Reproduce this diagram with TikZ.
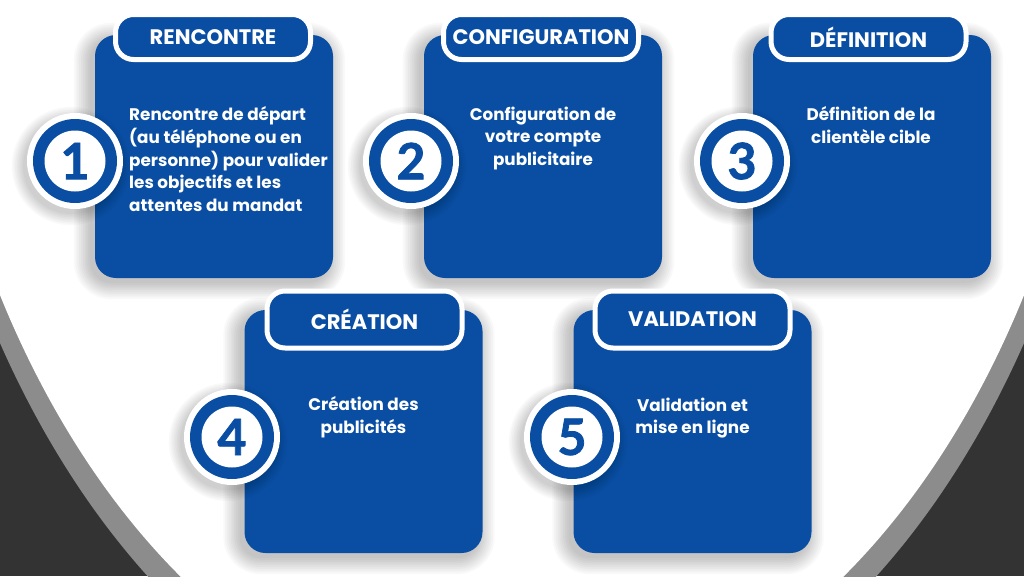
\documentclass[tikz,border=0pt]{standalone}
\usepackage{fontspec}
\setmainfont{Poppins}
\newfontfamily\digitfont{Lato}[BoldFeatures={FakeBold=1.6}]
\definecolor{mblue}{HTML}{0A4EA3}
\definecolor{darkbg}{HTML}{333333}
\definecolor{ringgray}{HTML}{8C8C8C}
\begin{document}
\begin{tikzpicture}[x=1pt,y=-1pt,
  stepcard/.style={fill=mblue, rounded corners=21pt, inner sep=0pt, minimum width=238pt, minimum height=243pt},
  steptab/.style={fill=mblue, draw=white, line width=5pt, rounded corners=18pt, inner sep=0pt, minimum width=195pt, text=white, font=\bfseries\fontsize{21}{24}\selectfont},
  bodytext/.style={text=white, inner sep=0pt, font=\bfseries\fontsize{16.8}{22.7}\selectfont},
  ringout/.style={circle, fill=white, inner sep=0pt, minimum size=96pt},
  ringmid/.style={circle, fill=mblue, inner sep=0pt, minimum size=84pt},
  ringin/.style={circle, fill=white, inner sep=0pt, minimum size=61pt},
  digit/.style={text=mblue, inner sep=0pt, font=\digitfont\bfseries\fontsize{50}{50}\selectfont},
  shadowlayer/.style={fill=black, opacity=0.022}
]
\useasboundingbox (0,0) rectangle (1024,576);
\clip (0,0) rectangle (1024,576);
% background
\fill[darkbg] (0,0) rectangle (1024,576);
\fill[ringgray] (512,-166) ellipse [x radius=614, y radius=922];
\fill[white] (512,-166) ellipse [x radius=598, y radius=892];

% card shadows
\foreach \cx/\cy in {214/156.5, 543/156.5, 872/156.5, 363.5/431.5, 692.5/431.5}{
  \foreach \i in {0,...,9}{
    \fill[shadowlayer, rounded corners={21+\i*1.8}]
      ({\cx-119-5-\i*1.8},{\cy-121.5+4-\i*1.8}) rectangle ({\cx+119-4+\i*1.8},{\cy+121.5+5+\i*1.8});
  }
}
% cards
\node[stepcard] (b1) at (214,156.5) {};
\node[stepcard] (b2) at (543,156.5) {};
\node[stepcard] (b3) at (872,156.5) {};
\node[stepcard] (b4) at (363.5,431.5) {};
\node[stepcard] (b5) at (692.5,431.5) {};

% tabs
\node[steptab, minimum height=45pt] (t1) at (213,37) {RENCONTRE};
\node[steptab, minimum height=45pt] (t2) at (541,37) {CONFIGURATION};
\node[steptab, minimum height=45pt] (t3) at (868.5,37) {DÉFINITION};
\node[steptab, minimum height=57pt] (t4) at (364.5,319.5) {CRÉATION};
\node[steptab, minimum height=57pt] (t5) at (692.5,319.5) {VALIDATION};

% body texts
\node[bodytext, anchor=north west, align=left] (x1) at (129,106.5) {Rencontre de départ\\(au téléphone ou en\\personne) pour valider\\les objectifs et les\\attentes du mandat};
\node[bodytext, anchor=north, align=center] (x2) at (543,106.5) {Configuration de\\votre compte\\publicitaire};
\node[bodytext, anchor=north, align=center] (x3) at (871,106.5) {Définition de la\\clientèle cible};
\node[bodytext, anchor=north, align=center] (x4) at (363.5,396.5) {Création des\\publicités};
\node[bodytext, anchor=north, align=center] (x5) at (692.5,397.5) {Validation et\\mise en ligne};

% number circles
\foreach \n/\cx/\cy in {1/75/161, 2/411/161, 3/742/161, 4/232/437, 5/572/437}{
  \foreach \i in {0,...,7}{
    \fill[shadowlayer] ({\cx-4},{\cy+5}) circle ({48+\i*1.6});
  }
  \node[ringout] (o\n) at (\cx,\cy) {};
  \node[ringmid] (m\n) at (\cx,\cy) {};
  \node[ringin] (i\n) at (\cx,\cy) {};
  \node[digit] (d\n) at (\cx,\cy) {\n};
}
\end{tikzpicture}
\end{document}
